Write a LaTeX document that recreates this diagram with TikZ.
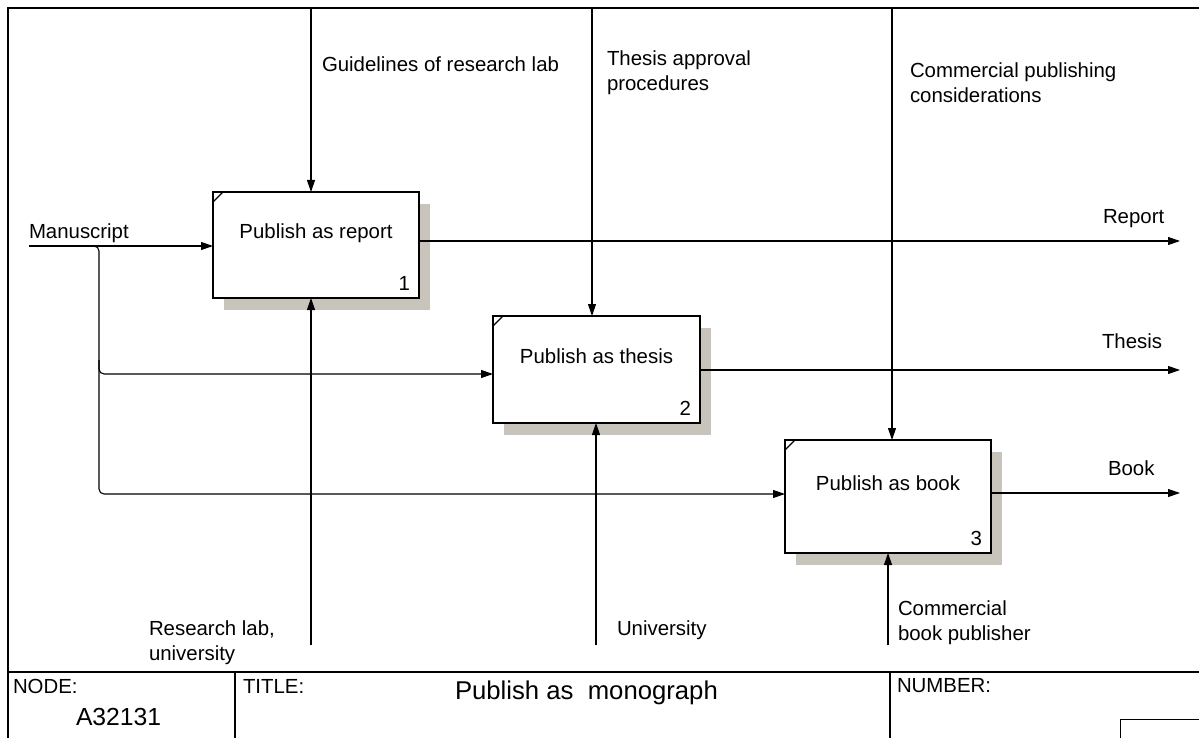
\documentclass[tikz,border=0pt]{standalone}
\usepackage{fontspec}
\setmainfont{Liberation Sans}
\usetikzlibrary{arrows.meta,shadows,calc}
\definecolor{shadowc}{RGB}{200,196,188}
\begin{document}
\begin{tikzpicture}[x=1pt,y=-1pt,
  every node/.style={font=\fontsize{20.4}{25}\selectfont, inner sep=0pt, outer sep=0pt},
  lbl/.style={anchor=base west, align=left},
  pbox/.style={draw, line width=2pt, fill=white, anchor=north west,
    drop shadow={shadow xshift=11pt, shadow yshift=-12pt, fill=shadowc, opacity=1}},
  arr/.style={line width=1.1pt, -{Triangle[length=12pt,width=8pt]}},
  frame/.style={line width=1.4pt},
  corner/.style={line width=1.2pt}]
\useasboundingbox (0,0) rectangle (1199,738);
\fill[white] (0,0) rectangle (1199,738);
% frame and title block
\draw[frame] (1199,8) -- (8,8) -- (8,738);
\draw[frame] (8,672) -- (1199,672);
\draw[frame] (235,672) -- (235,738);
\draw[frame] (890,672) -- (890,738);
\draw[line width=1pt] (1199,719) -- (1120,719) -- (1120,738);
\node[lbl] (node) at (13,693) {NODE:};
\node[lbl, font=\fontsize{24.7}{30}\selectfont] (nodeid) at (76,725) {A32131};
\node[lbl] (title) at (243,693) {TITLE:};
\node[lbl, font=\fontsize{25.7}{30}\selectfont] (titletext) at (455,699) {Publish as\ \ monograph};
\node[lbl] (number) at (897,692) {NUMBER:};
% boxes
\node[pbox, minimum width=206pt, minimum height=106pt] (b1) at (213,192) {};
\node[pbox, minimum width=207pt, minimum height=107pt] (b2) at (493,316) {};
\node[pbox, minimum width=206pt, minimum height=113pt] (b3) at (785,440) {};
\draw[corner] ($(b1.north west)+(0,10)$) -- ($(b1.north west)+(10,0)$);
\draw[corner] ($(b2.north west)+(0,10)$) -- ($(b2.north west)+(10,0)$);
\draw[corner] ($(b3.north west)+(0,10)$) -- ($(b3.north west)+(10,0)$);
\node[anchor=base] (t1) at ($(b1.north)+(0,46)$) {Publish as report};
\node[anchor=base] (t2) at ($(b2.north)+(0,47)$) {Publish as thesis};
\node[anchor=base] (t3) at ($(b3.north)+(0,50)$) {Publish as book};
\node[anchor=base east] (n1) at ($(b1.south east)+(-9,-8)$) {1};
\node[anchor=base east] (n2) at ($(b2.south east)+(-9,-8)$) {2};
\node[anchor=base east] (n3) at ($(b3.south east)+(-9,-8)$) {3};
% controls
\coordinate (c1) at (311,8);
\coordinate (c2) at (592,8);
\coordinate (c3) at (892,8);
\draw[arr] (c1) -- (c1 |- b1.north);
\draw[arr] (c2) -- (c2 |- b2.north);
\draw[arr] (c3) -- (c3 |- b3.north);
\node[lbl] (cl1) at (322,72) {Guidelines of research lab};
\node[lbl] (cl2) at (607,91) {Thesis approval\\procedures};
\node[lbl] (cl3) at (910,103) {Commercial publishing\\considerations};
% mechanisms
\coordinate (m1) at (311,645);
\coordinate (m2) at (596,645);
\coordinate (m3) at (888,645);
\draw[arr] (m1) -- (m1 |- b1.south);
\draw[arr] (m2) -- (m2 |- b2.south);
\draw[arr] (m3) -- (m3 |- b3.south);
\node[lbl] (ml1) at (149,660) {Research lab,\\university};
\node[lbl] (ml2) at (617,635) {University};
\node[lbl] (ml3) at (898,640) {Commercial\\book publisher};
% inputs
\coordinate (in) at (29,246);
\coordinate (br) at (99,246);
\draw[arr] (in) -- (in -| b1.west);
\draw[arr, rounded corners=5pt] ($(br)+(-10,0)$) -- (br) -- (99,494) -- (99,494 -| b3.west);
\draw[arr, rounded corners=5pt] (99,360) -- (99,374) -- (99,374 -| b2.west);
\node[lbl] (il) at (29,238) {Manuscript};
% outputs
\coordinate (o1) at (1180,241);
\coordinate (o2) at (1180,370);
\coordinate (o3) at (1180,493);
\draw[arr] (o1 -| b1.east) -- (o1);
\draw[arr] (o2 -| b2.east) -- (o2);
\draw[arr] (o3 -| b3.east) -- (o3);
\node[lbl] (ol1) at (1103,223) {Report};
\node[lbl] (ol2) at (1102,348) {Thesis};
\node[lbl] (ol3) at (1108,475) {Book};
\end{tikzpicture}
\end{document}
